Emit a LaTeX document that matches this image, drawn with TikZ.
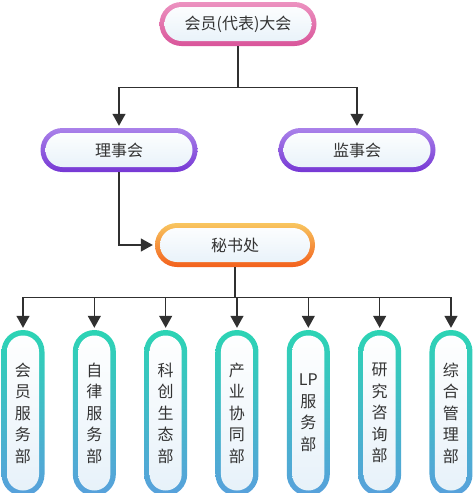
\documentclass[tikz,border=0pt]{standalone}
\usepackage{fontspec}
\usepackage{tikz}
\usetikzlibrary{arrows.meta}
\newfontfamily\cjk{Noto Sans CJK SC}

\definecolor{pinkA}{HTML}{EC92C0}
\definecolor{pinkB}{HTML}{D9559A}
\definecolor{purpleA}{HTML}{AA82EA}
\definecolor{purpleB}{HTML}{7638D4}
\definecolor{orangeA}{HTML}{F8C660}
\definecolor{orangeB}{HTML}{F3601C}
\definecolor{tealA}{HTML}{2CD4B4}
\definecolor{tealB}{HTML}{58A0DC}
\definecolor{boxin}{HTML}{E6F1F9}
\definecolor{txtgray}{HTML}{333333}
\definecolor{linegray}{HTML}{303030}

\tikzset{
	box/.style={minimum width=157pt, minimum height=44pt, rounded corners=22pt, inner sep=0pt,
		font=\cjk\fontsize{16}{19}\selectfont, text=txtgray,
		path picture={\shade[top color=white, bottom color=boxin, rounded corners=17pt]
			([shift={(5pt,-5pt)}]path picture bounding box.north west) rectangle
			([shift={(-5pt,5pt)}]path picture bounding box.south east);}},
	pinkbox/.style={box, top color=pinkA, bottom color=pinkB},
	purplebox/.style={box, top color=purpleA, bottom color=purpleB},
	orangebox/.style={box, top color=orangeA, bottom color=orangeB, minimum width=160pt},
	dept/.style={minimum width=43pt, minimum height=166pt, rounded corners=21.5pt, inner sep=0pt,
		top color=tealA, bottom color=tealB, align=center,
		font=\cjk\fontsize{16}{21.5}\selectfont, text=txtgray,
		path picture={\shade[top color=white, bottom color=boxin, rounded corners=16pt]
			([shift={(5.5pt,-5.5pt)}]path picture bounding box.north west) rectangle
			([shift={(-5.5pt,5.5pt)}]path picture bounding box.south east);}},
	link/.style={draw=linegray, line width=1.3pt},
	arr/.style={link, -{Triangle[length=12pt,width=13pt]}, shorten >=2pt}
}

\begin{document}
\begin{tikzpicture}[x=1pt,y=-1pt]
	\clip (0,0) rectangle (474,493);

	% top levels
	\node[pinkbox] (dh) at (238,24) {会员(代表)大会};
	\node[purplebox] (lsh) at (119,150) {理事会};
	\node[purplebox] (jsh) at (357,150) {监事会};
	\node[orangebox] (msc) at (235,245) {秘书处};

	\draw[arr] (dh.south) -- ++(0,41) -| (lsh.north);
	\draw[arr] (dh.south) -- ++(0,41) -| (jsh.north);
	\draw[arr] (lsh.south) |- (msc.west);

	% departments
	\foreach \i/\t in {1/{会\\员\\服\\务\\部}, 2/{自\\律\\服\\务\\部}, 3/{科\\创\\生\\态\\部},
		4/{产\\业\\协\\同\\部}, 5/{LP\\服\\务\\部}, 6/{研\\究\\咨\\询\\部}, 7/{综\\合\\管\\理\\部}}
	{
		\node[dept] (d\i) at ({23+71.33*(\i-1)},413) {\t};
		\draw[arr] (msc.south) -- ++(0,30) -| (d\i.north);
	}
\end{tikzpicture}
\end{document}
